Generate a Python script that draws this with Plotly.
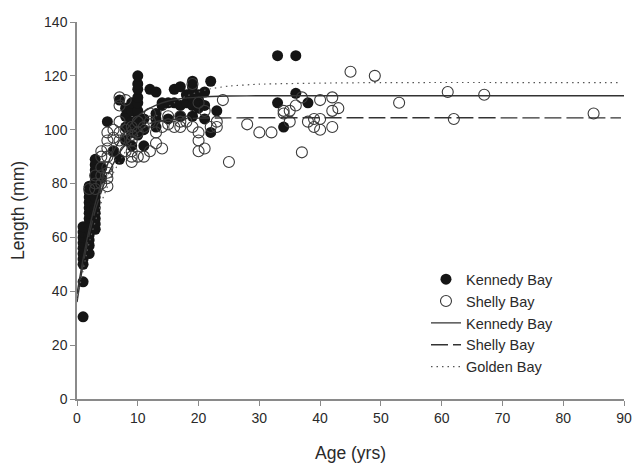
import plotly.graph_objects as go

# ---- data ----
kennedy_age = [1]*10 + [2]*13 + [3]*14 + [4]*2 + [5, 6, 7, 7] + [8]*4 + [9]*5 + [10]*9 + [11]*3 + [12] + [13]*4 + [14]*2 + [15]*2 + [16]*2 + [17]*3 + [18]*2 + [19]*6 + [20]*3 + [21]*3 + [22]*2 + [23] + [33, 33, 34, 36, 36, 38]
kennedy_len = [30.5, 43.5, 50, 52, 54, 56, 58, 60, 62, 64,
               54, 57, 59, 61, 63, 65, 67, 69, 71, 73, 75, 77, 79,
               63, 65, 67, 69, 71, 73, 75, 77, 79, 81, 83, 85, 87, 89,
               82, 86,
               103, 92, 89, 111,
               96, 101, 105, 108,
               94, 99, 103, 107, 110,
               98, 101, 104, 107, 110, 112, 115, 117, 120,
               94, 100, 104,
               115,
               101, 104, 106, 114,
               109, 110,
               104, 110,
               110, 115,
               105, 109, 116,
               110, 113,
               105, 109, 112, 114, 116, 118,
               108, 111, 113,
               104, 109, 114,
               99, 118,
               107,
               110, 127.5, 101, 113.5, 127.5, 110]

shelly_age = [2, 3, 3, 3] + [4]*5 + [5]*8 + [6]*3 + [7]*5 + [8]*4 + [9]*6 + [10]*3 + [11]*2 + [12]*3 + [13]*2 + [14]*2 + [15]*2 + [16] + [17]*3 + [18] + [19]*2 + [20]*4 + [21]*2 + [22] + [23]*2 + [24, 25, 28, 30, 32, 34, 34, 35, 35, 36, 37, 37, 38, 39, 39, 40, 40, 40, 42, 42, 42, 43, 45, 49, 53, 61, 62, 67, 85]
shelly_len = [78, 78, 80, 83,
              80, 83, 86, 90, 92,
              79, 82, 84, 86, 90, 93, 96, 99,
              92, 97, 100,
              96, 99, 103, 109, 112,
              92, 97, 100, 111,
              88, 90, 92, 96, 98, 101,
              90, 99, 103,
              90, 101,
              92, 103, 106,
              95, 99,
              93, 101,
              102, 105,
              101,
              101, 103, 105,
              103,
              117, 101,
              92, 96, 99, 110,
              93, 107,
              101,
              101, 103,
              111, 88, 102, 99, 99, 107, 106, 103, 107, 109, 112, 91.6, 103, 104, 101,
              100, 104, 111, 101, 107, 112, 108, 121.5, 120, 110, 114, 104, 113, 106]

kennedy_curve_age = [0, 1, 2, 3, 4, 5, 6, 7, 8, 10, 12, 14, 17, 20, 25, 30, 90]
kennedy_curve_len = [39, 52, 63, 72.5, 80, 87, 92, 96, 99.5, 105, 108, 110, 111.5, 112.1, 112.5, 112.6, 112.6]

shelly_curve_age = [0, 1, 2, 3, 4, 5, 6, 7, 8, 10, 12, 14, 17, 20, 25, 89.5]
shelly_curve_len = [36, 50, 61, 70, 77, 83, 87.5, 91.5, 94.5, 99, 102.3, 103.4, 104, 104.3, 104.4, 104.4]

golden_curve_age = [0, 2, 4, 6, 8, 10, 12, 14, 16, 18, 20, 22, 25, 30, 40, 50, 89.5]
golden_curve_len = [37, 58, 73, 84, 92, 98, 103, 107, 110, 112.5, 114, 115.2, 116.2, 116.9, 117.3, 117.5, 117.5]

x_ticks = [0, 10, 20, 30, 40, 50, 60, 70, 80, 90]
y_ticks = [0, 20, 40, 60, 80, 100, 120, 140]

FONT = "Liberation Sans, Arial, sans-serif"
TXT = "#2a2a2a"
AX = "#8a8a8a"

fig = go.Figure()
fig.add_trace(go.Scatter(x=kennedy_age, y=kennedy_len, mode="markers", name="Kennedy Bay",
                         marker=dict(symbol="circle", size=11, color="#151515",
                                     line=dict(width=0))))
fig.add_trace(go.Scatter(x=shelly_age, y=shelly_len, mode="markers", name="Shelly Bay",
                         marker=dict(symbol="circle-open", size=11, color="#3a3a3a",
                                     line=dict(width=1.1))))
fig.add_trace(go.Scatter(x=kennedy_curve_age, y=kennedy_curve_len, mode="lines", name="Kennedy Bay",
                         line=dict(color="#333333", width=1.4, shape="spline", smoothing=0.6)))
fig.add_trace(go.Scatter(x=shelly_curve_age, y=shelly_curve_len, mode="lines", name="Shelly Bay",
                         line=dict(color="#333333", width=1.4, dash="17px,5px", shape="spline", smoothing=0.6)))
fig.add_trace(go.Scatter(x=golden_curve_age, y=golden_curve_len, mode="lines", name="Golden Bay",
                         line=dict(color="#555555", width=1.2, dash="1.5px,4px", shape="spline", smoothing=0.6)))

fig.update_layout(
    width=632, height=463,
    margin=dict(l=77, r=8, t=22, b=64),
    paper_bgcolor="white", plot_bgcolor="white",
    font=dict(family=FONT, color=TXT, size=13),
    showlegend=True,
    legend=dict(x=0.638, y=0.36, xanchor="left", yanchor="top",
                bgcolor="rgba(0,0,0,0)", font=dict(size=14.5, color=TXT),
                itemwidth=30, tracegroupgap=0),
    xaxis=dict(range=[0, 90], tickvals=x_ticks, showgrid=False, zeroline=False,
               automargin=False,
               showline=True, linecolor=AX, linewidth=1.5, ticks="outside",
               ticklen=5, tickcolor=AX, tickwidth=1.2,
               tickfont=dict(size=14, color=TXT),
               title=dict(text="Age (yrs)", font=dict(size=17.5, color=TXT), standoff=25)),
    yaxis=dict(range=[0, 140], tickvals=y_ticks, showgrid=False, zeroline=False,
               automargin=False,
               showline=True, linecolor=AX, linewidth=1.5, ticks="outside",
               ticklen=5, tickcolor=AX, tickwidth=1.2,
               tickfont=dict(size=14, color=TXT),
               title=dict(text="Length (mm)", font=dict(size=17.5, color=TXT), standoff=15)),
)

fig.write_html("out.html")
